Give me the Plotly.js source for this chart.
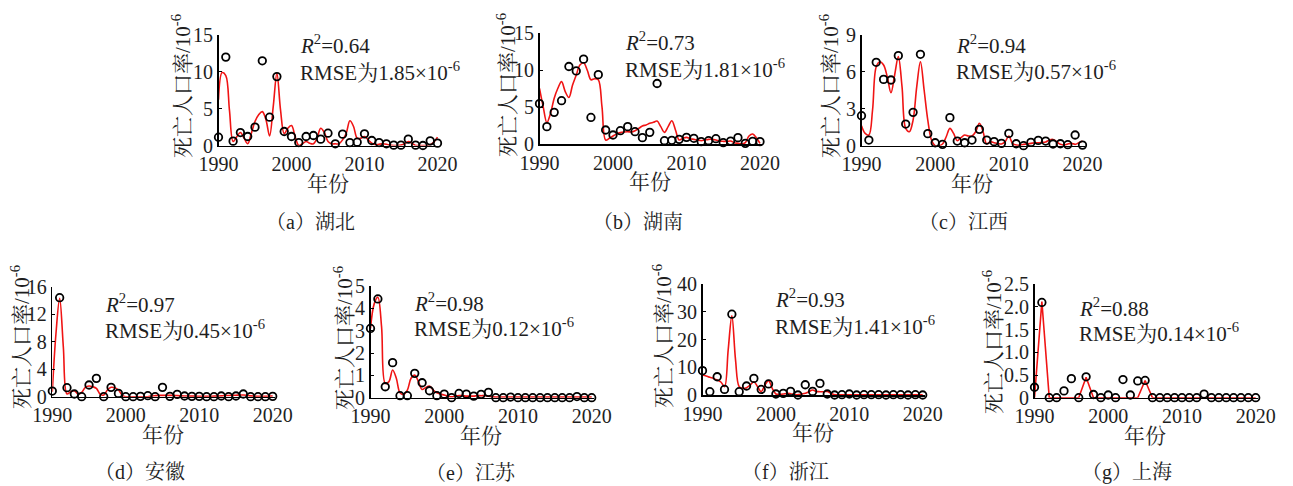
<!DOCTYPE html>
<html>
<head>
<meta charset="utf-8">
<script src="https://cdn.plot.ly/plotly-3.0.1.min.js"></script>
<style>html,body{margin:0;padding:0;background:#fff;}#chart{width:1293px;height:486px;}</style>
</head>
<body>
<div id="chart"></div>
<script>
// ---------- DATA ----------
const years = [1990,1991,1992,1993,1994,1995,1996,1997,1998,1999,2000,2001,2002,2003,2004,2005,2006,2007,2008,2009,2010,2011,2012,2013,2014,2015,2016,2017,2018,2019,2020];
const fitYears = [1990,1990.5,1991,1991.5,1992,1992.5,1993,1993.5,1994,1994.5,1995,1995.5,1996,1996.5,1997,1997.5,1998,1998.5,1999,1999.5,2000,2000.5,2001,2001.5,2002,2002.5,2003,2003.5,2004,2004.5,2005,2005.5,2006,2006.5,2007,2007.5,2008,2008.5,2009,2009.5,2010,2010.5,2011,2011.5,2012,2012.5,2013,2013.5,2014,2014.5,2015,2015.5,2016,2016.5,2017,2017.5,2018,2018.5,2019,2019.5,2020];

const hubeiObs = [1.13,12.0,0.59,1.76,1.22,2.49,11.5,3.84,9.35,1.9,1.22,0.4,1.22,1.36,0.86,1.67,0.23,1.54,0.4,0.45,1.58,0.68,0.4,0.23,0.05,0.05,0.86,0.05,0.0,0.63,0.32];
const hubeiFit = [6.2,9.9,9.5,4.8,0.55,1.2,1.76,1.0,0.23,1.67,3.25,4.16,4.6,3.5,1.3,5.3,9.8,4.8,1.6,2.35,2.7,1.2,0.0,0.23,0.55,0.3,0.23,1.0,2.35,1.76,0.55,0.23,0.23,0.23,0.77,1.67,3.35,2.58,1.0,1.0,1.22,0.77,0.32,0.1,0.18,0.23,0.18,0.05,0.0,0.0,0.05,0.23,0.55,0.3,0.0,0.0,0.0,0.0,0.1,0.45,1.13];

const hunanObs = [5.47,2.35,4.29,5.87,10.5,9.9,11.5,3.6,9.4,1.9,1.22,1.8,2.35,1.67,0.86,1.58,8.2,0.45,0.5,0.63,0.9,0.77,0.32,0.45,0.72,0.18,0.4,0.86,0.09,0.36,0.32];
const hunanFit = [7.55,5.06,2.9,4.16,6.2,7.55,8.45,7.1,6.3,8.0,9.35,10.7,11.0,10.0,8.7,8.85,8.7,5.06,0.54,0.77,1.08,1.36,1.54,1.63,1.67,1.63,1.8,2.1,2.44,2.58,2.8,2.94,3.1,2.35,1.58,2.35,3.16,1.9,0.54,0.77,0.9,0.72,0.63,0.54,0.45,0.54,0.63,0.63,0.54,0.4,0.36,0.36,0.4,0.18,0.09,0.0,0.18,1.08,1.36,0.86,0.09];

const jiangxiObs = [2.44,0.46,6.78,5.39,5.34,7.32,1.76,2.71,7.43,0.98,0.24,0.11,2.28,0.38,0.24,0.46,1.33,0.46,0.33,0.19,1.0,0.16,0.0,0.27,0.43,0.38,0.14,0.16,0.08,0.87,0.05];
const jiangxiFit = [1.63,1.0,0.87,2.9,6.42,6.83,6.56,5.6,4.3,5.75,7.24,4.8,1.4,1.14,2.08,4.8,6.83,4.53,2.08,0.46,0.0,0.0,0.14,0.73,1.41,1.0,0.41,0.65,0.87,0.79,0.79,1.14,1.82,1.14,0.14,0.33,0.24,0.19,0.14,0.33,0.79,0.19,0.05,0.05,0.11,0.14,0.19,0.24,0.24,0.27,0.3,0.46,0.51,0.33,0.11,0.05,0.14,0.19,0.11,0.24,0.38];

const anhuiObs = [0.82,14.4,1.31,0.39,0.0,1.7,2.67,0.0,1.36,0.48,0.0,0.0,0.05,0.15,0.0,1.36,0.05,0.34,0.1,0.05,0.05,0.0,0.0,0.1,0.0,0.1,0.39,0.0,0.0,0.0,0.05];
const anhuiFit = [0.73,9.2,14.3,7.27,0.39,0.73,0.87,0.39,0.63,1.36,1.55,1.45,1.21,0.39,0.24,0.97,1.36,1.31,0.97,0.24,0.0,0.0,0.0,0.0,0.0,0.0,0.0,0.1,0.15,0.19,0.19,0.19,0.19,0.19,0.15,0.12,0.1,0.1,0.08,0.08,0.06,0.05,0.05,0.06,0.08,0.1,0.12,0.15,0.18,0.2,0.22,0.25,0.25,0.2,0.12,0.08,0.05,0.05,0.06,0.08,0.1];

const jiangsuObs = [3.1,4.42,0.49,1.57,0.09,0.09,1.09,0.67,0.31,0.09,0.16,0.0,0.19,0.16,0.07,0.15,0.24,0.0,0.0,0.03,0.0,0.0,0.0,0.0,0.0,0.0,0.0,0.0,0.05,0.0,0.0];
const jiangsuFit = [3.1,4.2,4.5,3.18,0.64,0.72,1.24,0.87,0.22,0.15,0.34,0.87,1.01,0.72,0.37,0.46,0.52,0.34,0.22,0.16,0.12,0.07,0.04,0.07,0.1,0.09,0.07,0.07,0.07,0.09,0.09,0.09,0.07,0.04,0.03,0.03,0.03,0.03,0.03,0.03,0.03,0.03,0.03,0.03,0.03,0.03,0.03,0.03,0.03,0.03,0.03,0.03,0.03,0.03,0.03,0.03,0.03,0.03,0.03,0.03,0.03];

const zhejiangObs = [8.8,1.2,6.6,2.0,29.2,1.2,3.25,6.0,2.0,4.0,0.36,0.6,1.3,0.0,3.7,1.3,4.2,0.36,0.0,0.1,0.36,0.0,0.1,0.1,0.1,0.0,0.1,0.1,0.0,0.1,0.0];
const zhejiangFit = [7.2,6.9,6.4,6.0,5.4,4.7,3.0,16.3,28.6,12.7,3.0,2.4,2.65,3.6,4.8,3.0,1.2,3.6,5.2,2.4,0.36,0.24,0.36,0.6,0.48,0.24,0.12,0.36,0.6,1.2,1.8,1.3,1.2,1.2,1.3,0.6,0.12,0.1,0.1,0.1,0.1,0.1,0.1,0.1,0.1,0.1,0.1,0.1,0.1,0.1,0.1,0.1,0.1,0.1,0.1,0.1,0.1,0.1,0.1,0.1,0.1];

const shanghaiObs = [0.23,2.1,0.0,0.0,0.15,0.42,0.0,0.46,0.07,0.0,0.06,0.0,0.4,0.06,0.37,0.38,0.0,0.0,0.0,0.0,0.0,0.0,0.0,0.08,0.0,0.0,0.0,0.0,0.0,0.0,0.0];
const shanghaiFit = [0.0,2.12,0.0,0.0,0.0,0.0,0.0,0.45,0.0,0.0,0.0,0.0,0.0,0.0,0.0,0.38,0.0,0.0,0.0,0.0,0.0,0.0,0.0,0.0,0.0,0.0,0.0,0.0,0.0,0.0,0.0];

const captions = ["（a）湖北","（b）湖南","（c）江西","（d）安徽","（e）江苏","（f）浙江","（g）上海"];
const r2Values = ["0.64","0.73","0.94","0.97","0.98","0.93","0.88"];
const rmseValues = ["1.85","1.81","0.57","0.45","0.12","1.41","0.14"];
const xTickVals = [1990,2000,2010,2020];
const yTickVals = [[0,5,10,15],[0,5,10,15],[0,3,6,9],[0,4,8,12,16],[0,1,2,3,4,5],[0,10,20,30,40],[0,0.5,1,1.5,2,2.5]];
const yTickText = [["0","5","10","15"],["0","5","10","15"],["0","3","6","9"],["0","4","8","12","16"],["0","1","2","3","4","5"],["0","10","20","30","40"],["0","0.5","1.0","1.5","2.0","2.5"]];
const yMax = [15,15,9,16,5,40,2.5];
const xTitle = "年份";
const yTitle = "死亡人口率/10<sup>-6</sup>";

const obsSeries = [hubeiObs,hunanObs,jiangxiObs,anhuiObs,jiangsuObs,zhejiangObs,shanghaiObs];
const fitSeries = [hubeiFit,hunanFit,jiangxiFit,anhuiFit,jiangsuFit,zhejiangFit,shanghaiFit];
const fitX = [fitYears,fitYears,fitYears,fitYears,fitYears,fitYears,years];
const fitShape = ["spline","spline","spline","spline","spline","spline","linear"];

// ---------- LAYOUT (pixel positions) ----------
const W = 1293, H = 486;
const P = [
  {x0:218.5, x1:437.5, yb:145.5, yt:35,   ytx:182, yty:86,  tx:298, t1:45,  t2:71,  cx:310,  cy:222},
  {x0:539.5, x1:760,   yb:144,   yt:33.3, ytx:506, yty:85,  tx:623, t1:42,  t2:68,  cx:638,  cy:222},
  {x0:861.5, x1:1082.5,yb:145.7, yt:35,   ytx:830, yty:86,  tx:954, t1:45,  t2:70,  cx:963,  cy:222},
  {x0:52.3,  x1:272.7, yb:396.7, yt:286.7,ytx:20,  yty:337, tx:103, t1:303, t2:329, cx:140,  cy:472},
  {x0:370.5, x1:591.7, yb:397.7, yt:286,  ytx:343, yty:338, tx:412, t1:302, t2:327, cx:471,  cy:472},
  {x0:702.5, x1:922.7, yb:395,   yt:284.3,ytx:662, yty:336, tx:773, t1:298, t2:325, cx:785,  cy:472},
  {x0:1034.5,x1:1255.7,yb:397.7, yt:284.3,ytx:992, yty:342, tx:1077,t1:307, t2:332, cx:1127, cy:472}
];
const XEND = 2020.3;
const FONT = 'Liberation Serif, "Noto Serif CJK SC", "Noto Sans CJK SC", serif';
const TXT = '#1e1e1e';

const fx = v => v / W;
const fy = v => 1 - v / H;

const traces = [];
const layout = {
  width: W, height: H,
  margin: {l:0, r:0, t:0, b:0},
  paper_bgcolor: '#fff', plot_bgcolor: 'rgba(0,0,0,0)',
  showlegend: false,
  font: {family: FONT, size: 20, color: TXT},
  annotations: []
};

P.forEach((p, i) => {
  const n = i === 0 ? '' : String(i + 1);
  const k = (p.x1 - p.x0) / 30;
  const xr = p.x0 + (XEND - 2020) * k + (p.x1 - p.x0);
  layout['xaxis' + n] = {
    domain: [fx(p.x0), fx(xr)],
    range: [1990, XEND],
    anchor: 'y' + n,
    showline: true, linecolor: '#000', linewidth: 1.5,
    showgrid: false, zeroline: false,
    ticks: '', tickvals: xTickVals, ticktext: xTickVals.map(String),
    tickfont: {family: FONT, size: 20, color: TXT},
    fixedrange: true
  };
  layout['yaxis' + n] = {
    domain: [fy(p.yb), fy(p.yt)],
    range: [0, yMax[i]],
    anchor: 'x' + n,
    showline: true, linecolor: '#000', linewidth: 1.5,
    showgrid: false, zeroline: false,
    ticks: 'inside', ticklen: 3, tickcolor: '#000', tickwidth: 1,
    tickvals: yTickVals[i], ticktext: yTickText[i],
    tickfont: {family: FONT, size: 20, color: TXT},
    fixedrange: true
  };
  traces.push({
    type: 'scatter', mode: 'lines',
    x: fitX[i], y: fitSeries[i],
    xaxis: 'x' + n, yaxis: 'y' + n,
    line: {color: '#f01414', width: 1.6, shape: fitShape[i], smoothing: 1},
    hoverinfo: 'skip', cliponaxis: true
  });
  traces.push({
    type: 'scatter', mode: 'markers',
    x: years, y: obsSeries[i],
    xaxis: 'x' + n, yaxis: 'y' + n,
    marker: {symbol: 'circle-open', size: 7.5, color: '#000', line: {width: 1.8, color: '#000'}},
    cliponaxis: false
  });
  const A = layout.annotations;
  A.push({xref:'paper', yref:'paper', x: fx(p.tx), y: fy(p.t1), xanchor:'left', yanchor:'middle', showarrow:false,
    text: '<i>R</i><sup>2</sup>=' + r2Values[i], font:{family: FONT, size: 21, color: TXT}});
  A.push({xref:'paper', yref:'paper', x: fx(p.tx), y: fy(p.t2), xanchor:'left', yanchor:'middle', showarrow:false,
    text: 'RMSE为' + rmseValues[i] + '×10<sup>-6</sup>', font:{family: FONT, size: 21, color: TXT}});
  A.push({xref:'paper', yref:'paper', x: fx(p.ytx), y: fy(p.yty), xanchor:'center', yanchor:'middle', showarrow:false,
    textangle: -90, text: yTitle, font:{family: FONT, size: 21, color: TXT}});
  A.push({xref:'paper', yref:'paper', x: fx((p.x0 + p.x1) / 2), y: fy(p.yb + 38), xanchor:'center', yanchor:'middle', showarrow:false,
    text: xTitle, font:{family: FONT, size: 21, color: TXT}});
  A.push({xref:'paper', yref:'paper', x: fx(p.cx), y: fy(p.cy), xanchor:'center', yanchor:'middle', showarrow:false,
    text: captions[i], font:{family: FONT, size: 20, color: TXT}});
});

Plotly.newPlot('chart', traces, layout, {staticPlot: true, displayModeBar: false});
</script>
</body>
</html>
